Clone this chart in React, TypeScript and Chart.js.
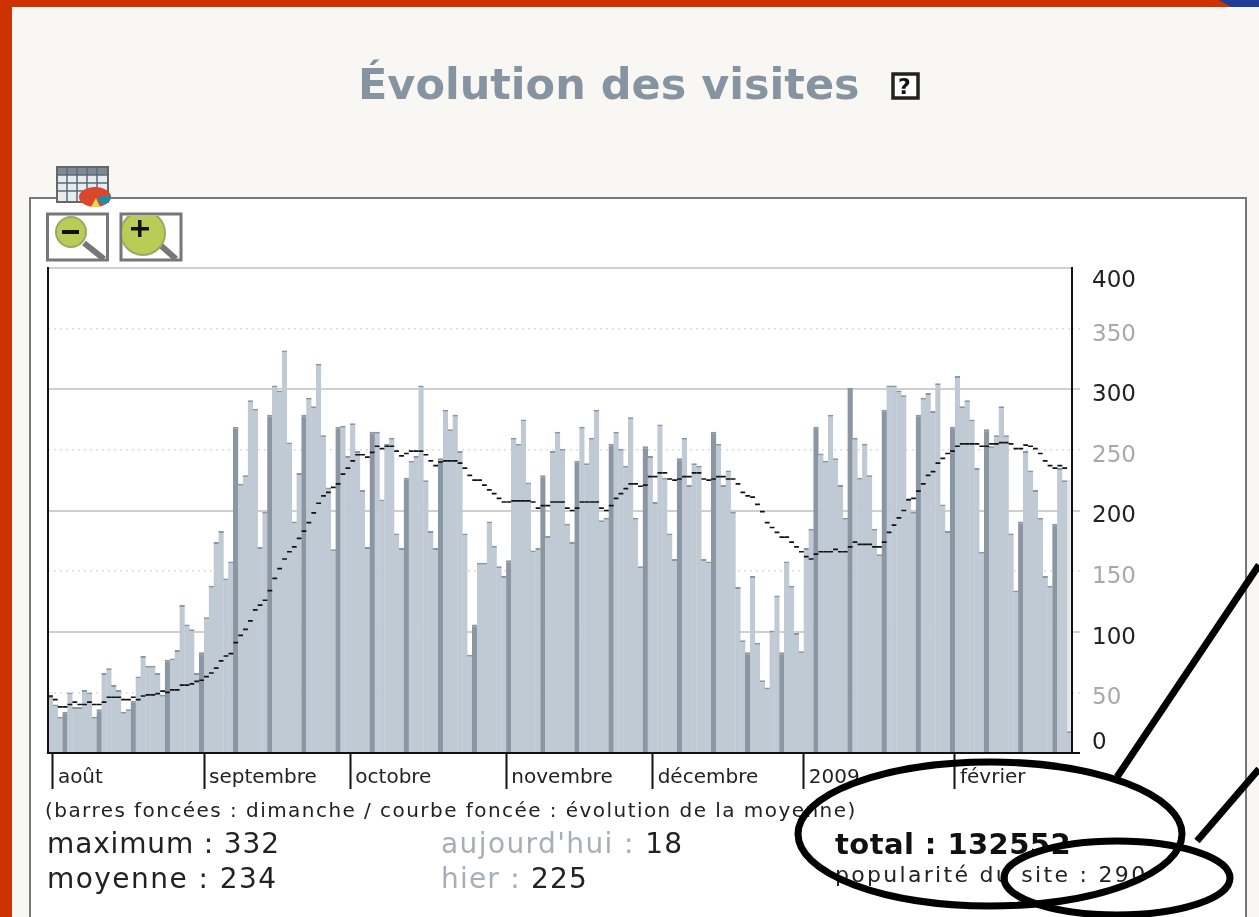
import React, { useEffect, useRef } from "react";
import { Chart, registerables } from "chart.js";

Chart.register(...registerables);

const visits = [
  47,40,30,34,50,38,38,52,50,30,36,66,70,56,52,34,36,43,63,80,72,72,66,48,77,78,85,122,106,102,
  66,83,112,138,174,183,144,158,269,222,229,291,284,170,199,279,303,299,332,256,191,231,279,293,286,321,262,219,168,269,
  270,245,272,249,217,170,265,265,209,255,260,181,169,227,241,245,303,225,183,169,243,283,267,279,249,181,81,106,157,157,
  191,171,154,146,159,260,255,275,223,167,169,229,179,249,265,251,189,174,241,269,239,260,283,192,194,255,265,251,237,277,
  194,154,253,245,207,271,227,181,160,243,260,221,239,237,160,158,265,255,221,233,199,137,93,83,146,91,60,54,101,130,
  83,158,138,99,84,169,185,269,247,241,279,243,221,194,301,260,227,255,229,185,164,283,303,303,299,295,209,199,279,293,
  297,282,305,205,183,269,311,286,291,275,235,166,267,253,262,286,262,181,134,191,249,233,217,194,146,138,189,235,225,18,
];
const projected = 225;
const moyenne = [
  47,44,38,38,40,42,40,40,42,40,40,42,46,46,46,44,44,46,44,47,48,48,49,51,50,52,52,56,56,57,
  59,60,63,66,70,76,80,82,91,97,102,109,118,122,126,134,144,152,160,166,170,177,183,190,198,206,212,215,219,222,
  230,235,241,246,246,244,248,253,251,253,253,249,245,247,249,249,249,246,241,237,240,241,241,241,239,235,229,225,225,221,
  217,214,210,207,207,208,208,208,208,207,202,204,204,207,207,207,202,200,202,207,207,207,207,202,200,204,210,214,218,222,
  222,220,221,228,228,231,231,226,225,226,228,228,231,231,226,225,226,228,228,226,226,222,215,212,211,205,199,190,186,182,
  178,178,174,170,166,162,160,164,166,166,166,168,166,166,170,174,172,172,172,170,170,174,182,188,194,200,209,210,216,222,
  229,232,239,243,247,249,253,255,255,255,255,253,253,255,255,256,256,255,251,251,254,253,251,247,241,237,235,237,235,
];
const months = ["août", "septembre", "octobre", "novembre", "décembre", "2009", "février"];
const monthStarts = [1, 32, 62, 94, 124, 155, 186];
const yTicks = [0, 50, 100, 150, 200, 250, 300, 350, 400];
const categories = visits.map((_, i) => String(i));
const ghost = visits.map((_, i) => (i === visits.length - 1 ? projected : null));

const LIGHT = "#bfcad5";
const DARK = "#8a96a1";
const FONT = "'DejaVu Sans', sans-serif";

const labelNudge = {
  id: "labelNudge",
  afterUpdate(chart: any) {
    const s = chart.scales.y;
    const items = s.getLabelItems(chart.chartArea);
    for (const it of items) {
      if (it.label === "0") it.options.translation[1] -= 16;
      if (it.label === "400") it.options.translation[1] += 7;
    }
  },
};

const Text = ({ x, y, size, children, color = "#222", weight = 400, ls = 0 }: any) => (
  <div
    style={{
      position: "absolute", left: x, top: y, fontFamily: FONT, fontSize: size, color, fontWeight: weight,
      letterSpacing: ls, whiteSpace: "nowrap", lineHeight: 1, transform: "translateY(-50%)",
    }}
  >
    {children}
  </div>
);

const Icons = () => (
  <svg width={1259} height={917} style={{ position: "absolute", left: 0, top: 0 }}>
    <defs>
      <clipPath id="zoomIn"><rect x={122} y={216} width={57} height={42} /></clipPath>
    </defs>
    <rect x={57} y={167} width={51} height={35} fill="#e6ebee" stroke="#666" strokeWidth={2} />
    <rect x={58} y={168} width={49} height={7} fill="#7d8a96" />
    {[67, 77, 87, 97].map((x) => <line key={x} x1={x} x2={x} y1={168} y2={202} stroke="#5a6a78" strokeWidth={1.5} />)}
    {[175, 183, 191].map((y) => <line key={y} x1={58} x2={108} y1={y} y2={y} stroke="#5a6a78" strokeWidth={1.5} />)}
    <ellipse cx={95} cy={197} rx={16} ry={10} fill="#d9482b" />
    <path d="M96 198 L111 195 A16 10 0 0 1 103 205 Z" fill="#1b8ea8" />
    <path d="M96 198 L100 207 L91 207 Z" fill="#e8d548" />
    <rect x={47.5} y={214} width={60} height={46} fill="#fff" stroke="#777" strokeWidth={3} />
    <line x1={84} y1={243} x2={104} y2={259} stroke="#777" strokeWidth={6} />
    <circle cx={71} cy={232} r={15} fill="#b9cc55" stroke="#98a868" strokeWidth={2} />
    <rect x={62} y={230} width={17} height={4} fill="#111" />
    <rect x={121} y={214} width={60} height={46} fill="#fff" stroke="#777" strokeWidth={3} />
    <line x1={158} y1={243} x2={176} y2={259} stroke="#777" strokeWidth={6} />
    <circle cx={143} cy={233} r={22} fill="#b9cc55" stroke="#98a868" strokeWidth={2} clipPath="url(#zoomIn)" />
    <rect x={131} y={227} width={18} height={3.5} fill="#111" />
    <rect x={138} y={220} width={3.5} height={17} fill="#111" />
    <rect x={893} y={74} width={25} height={24} fill="#fff" stroke="#222" strokeWidth={3.5} />
  </svg>
);

const Annotations = () => (
  <svg width={1259} height={917} style={{ position: "absolute", left: 0, top: 0 }}>
    <ellipse cx={990} cy={834} rx={192} ry={72} fill="none" stroke="#000" strokeWidth={7} />
    <ellipse cx={1117} cy={878} rx={113} ry={37} fill="none" stroke="#000" strokeWidth={7} />
    <line x1={1117} y1={777} x2={1259} y2={565} stroke="#000" strokeWidth={7} />
    <line x1={1197} y1={841} x2={1259} y2={769} stroke="#000" strokeWidth={7} />
  </svg>
);

export default function App() {
  const ref = useRef<HTMLCanvasElement>(null);
  useEffect(() => {
    document.body.style.margin = "0";
    const chart = new Chart(ref.current as HTMLCanvasElement, {
      type: "bar",
      plugins: [labelNudge],
      data: {
        labels: categories,
        datasets: [
          {
            label: "projection", data: ghost, backgroundColor: "#e6e8ea",
            barPercentage: 1, categoryPercentage: 1, grouped: false, order: 3,
          },
          {
            label: "visites", data: visits,
            backgroundColor: visits.map((_, i) => ((i - 3) % 7 === 0 ? DARK : LIGHT)),
            borderColor: DARK,
            borderWidth: { top: 2, left: 0, right: 0, bottom: 0 },
            borderSkipped: false,
            barPercentage: 1.12, categoryPercentage: 1, grouped: false, order: 2,
          },
          {
            type: "line", label: "moyenne", data: moyenne, showLine: false,
            pointStyle: "line", pointRadius: 2.4, pointBorderWidth: 1.7, pointBorderColor: "#111",
            pointBackgroundColor: "#111", order: 1,
          },
        ],
      } as any,
      options: {
        responsive: false,
        animation: false,
        events: [],
        layout: { padding: { left: 48, top: 268, right: 107, bottom: 114 } },
        plugins: { legend: { display: false }, tooltip: { enabled: false }, title: { display: false } },
        scales: {
          x: { display: false, offset: true },
          xMonths: {
            type: "linear", position: "bottom", min: 0, max: visits.length, offset: false,
            afterBuildTicks: (s: any) => { s.ticks = monthStarts.map((value) => ({ value })); },
            afterFit: (s: any) => { s.height = 50; },
            grid: { offset: false, drawOnChartArea: false, tickLength: 36, tickColor: "#111", tickWidth: 2 },
            border: { display: true, color: "#111", width: 2, z: 1 },
            ticks: {
              autoSkip: false, maxRotation: 0, align: "start", labelOffset: 5, padding: -23,
              color: "#222", font: { family: FONT, size: 20 },
              callback: (v: any) => months[monthStarts.indexOf(v)],
            },
          },
          yLeft: {
            position: "left", min: 0, max: 400,
            afterFit: (s: any) => { s.width = 0; },
            grid: { display: false, drawTicks: false },
            border: { display: true, color: "#111", width: 2, z: 1 },
            ticks: { display: false },
          },
          yDots: {
            position: "right", min: 0, max: 400,
            afterBuildTicks: (s: any) => { s.ticks = yTicks.filter((v) => v % 100 !== 0).map((value) => ({ value })); },
            afterFit: (s: any) => { s.width = 0; },
            grid: { color: "#dcdcdc", lineWidth: 1.5, tickLength: 8, tickColor: "#dcdcdc", tickBorderDash: [2, 4] },
            border: { display: false, dash: [2, 4] },
            ticks: { display: false },
          },
          y: {
            position: "right", min: 0, max: 400,
            afterBuildTicks: (s: any) => { s.ticks = yTicks.map((value) => ({ value })); },
            afterFit: (s: any) => { s.width = 80; },
            grid: {
              lineWidth: 2, tickLength: 8,
              color: (c: any) => (c.tick.value % 100 === 0 && c.tick.value > 0 ? "#cfcfcf" : "transparent"),
              tickColor: (c: any) => (c.tick.value === 0 ? "#111" : c.tick.value === 400 ? "transparent" : c.tick.value % 100 === 0 ? "#cfcfcf" : "transparent"),
            },
            border: { display: true, color: "#111", width: 2, z: 1 },
            ticks: {
              padding: 12, labelOffset: 6, font: { family: FONT, size: 23 },
              color: (c: any) => (c.tick.value % 100 === 0 ? "#222" : "#a8a8a8"),
            },
          },
        },
      } as any,
    });
    return () => chart.destroy();
  }, []);

  return (
    <div style={{ position: "absolute", left: 0, top: 0, width: 1259, height: 917, overflow: "hidden", background: "#f8f7f3" }}>
      <div style={{ position: "absolute", inset: 0, filter: "blur(0.6px)" }}>
        <div style={{ position: "absolute", left: 0, top: 0, width: 1259, height: 7, background: "#cc3300" }} />
        <div style={{ position: "absolute", left: 0, top: 0, width: 12, height: 917, background: "#cc3300" }} />
        <div style={{ position: "absolute", left: 29, top: 197, width: 1218, height: 760, boxSizing: "border-box", border: "2px solid #777", background: "#fff" }} />
        <Icons />
        <canvas ref={ref} width={1259} height={917} style={{ position: "absolute", left: 0, top: 0 }} />
        <Text x={358} y={84} size={43} weight={700} color="#8594a0">Évolution des visites</Text>
        <Text x={898} y={87} size={22} weight={700} color="#111">?</Text>
        <Text x={45} y={810} size={20} ls={1.45}>(barres foncées : dimanche / courbe foncée : évolution de la moyenne)</Text>
        <Text x={47} y={844} size={28} ls={0.85}>maximum : 332</Text>
        <Text x={47} y={879} size={28} ls={1.45}>moyenne : 234</Text>
        <Text x={441} y={844} size={28} ls={1.4}><span style={{ color: "#a6aeb6" }}>aujourd'hui :</span> 18</Text>
        <Text x={441} y={879} size={28} ls={1.2}><span style={{ color: "#a6aeb6" }}>hier :</span> 225</Text>
        <Text x={835} y={844} size={29} weight={700} color="#111" ls={0.43}>total : 132552</Text>
        <Text x={835} y={875} size={22} ls={2.3}>popularité du site : 290</Text>
      </div>
      <svg width={1259} height={12} style={{ position: "absolute", left: 0, top: 0 }}>
        <path d="M1219 0 L1259 0 L1259 7 L1231 7 Z" fill="#1f3c96" />
      </svg>
      <Annotations />
    </div>
  );
}
